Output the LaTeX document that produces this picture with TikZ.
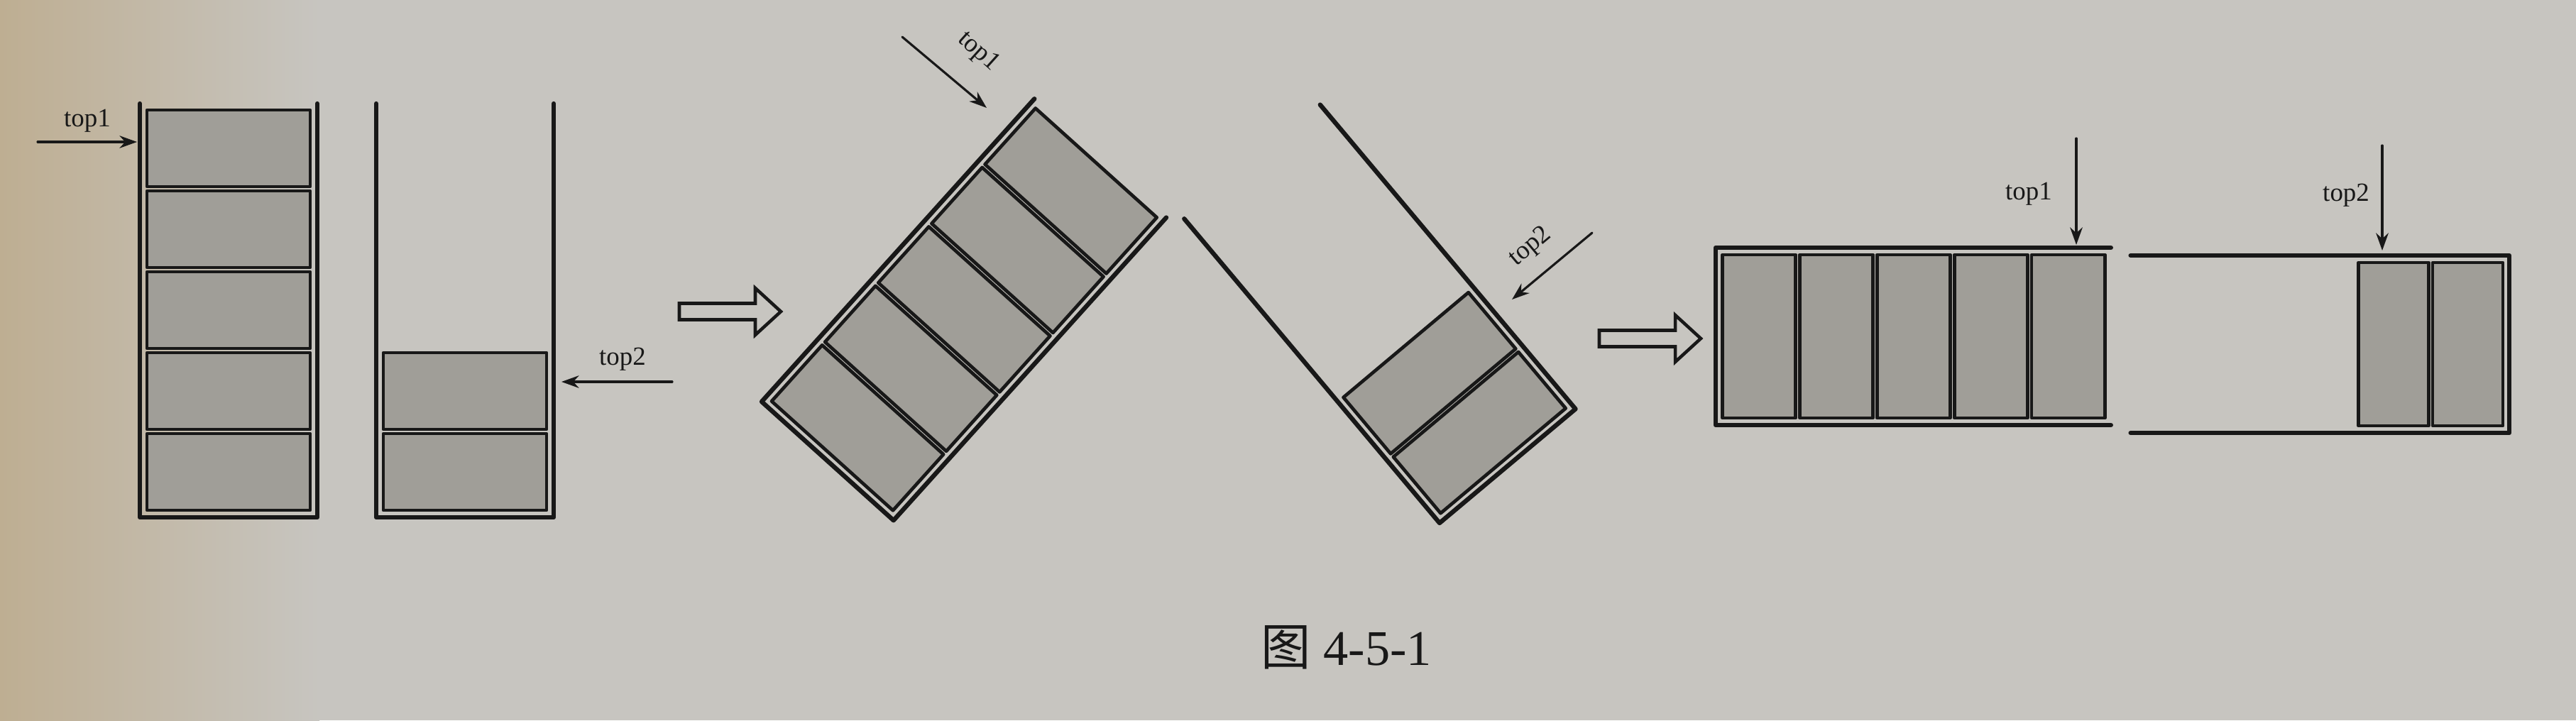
\documentclass[tikz,border=0pt]{standalone}
\usepackage{fontspec}
\setmainfont{Liberation Serif}
\newfontfamily\cjk{Noto Sans CJK SC}
\usetikzlibrary{arrows.meta}
\definecolor{paper}{RGB}{199,197,192}
\definecolor{pageedge}{RGB}{190,174,146}
\definecolor{cellgray}{RGB}{160,158,152}
\definecolor{ink}{RGB}{24,24,24}
\tikzset{
  wall/.style={draw=ink, line width=1.8pt},
  cell/.style={draw=ink, fill=cellgray, line width=1.35pt},
  ptr/.style={draw=ink, line width=0.9pt, -{Stealth[length=7pt,width=5pt]}},
  hollow/.style={draw=ink, line width=1.3pt, line join=miter, fill=paper},
  lbl/.style={font=\fontsize{10.5}{12}\selectfont, text=ink, inner sep=0pt}
}
% one stack: open container and #1 cells
\newcommand{\stackbox}[1]{%
  \draw[wall] (0,5.83)--(0,0)--(2.5,0)--(2.5,5.83);
  \foreach \k in {1,...,#1}{
    \draw[cell] (0.1,{0.1+(\k-1)*1.14}) rectangle (2.4,{1.18+(\k-1)*1.14});}
}
% big hollow arrow, left end at (#1,#2)
\newcommand{\fatarrow}[2]{%
  \draw[hollow] (#1,#2) ++(0,0.115) -- ++(1.07,0) -- ++(0,0.215) -- ++(0.36,-0.33)
    -- ++(-0.36,-0.33) -- ++(0,0.215) -- ++(-1.07,0) -- cycle;}
\begin{document}
\begin{tikzpicture}[line join=round, line cap=round]
\fill[paper] (0,0) rectangle (36.29,10.15);
\shade[left color=pageedge, right color=paper] (0,0) rectangle (4.5,10.15);
\useasboundingbox (0,0) rectangle (36.29,10.15);

% two upright stacks
\begin{scope}[shift={(1.97,2.86)}] \stackbox{5} \end{scope}
\begin{scope}[shift={(5.30,2.86)}] \stackbox{2} \end{scope}
\coordinate (p1a) at (0.53,8.15); \coordinate (p1b) at (1.93,8.15);
\draw[ptr] (p1a)--(p1b);
\node[lbl] (top1a) at (1.23,8.45) {top1};
\coordinate (p2a) at (9.47,4.77); \coordinate (p2b) at (7.91,4.77);
\draw[ptr] (p2a)--(p2b);
\node[lbl] (top2a) at (8.77,5.09) {top2};

\fatarrow{9.57}{5.76}

% tilted towards each other
\begin{scope}[shift={(10.73,4.49)}, rotate=-42, yscale=0.985] \stackbox{5} \end{scope}
\begin{scope}[shift={(20.28,2.78)}, rotate=40, yscale=0.96] \stackbox{2} \end{scope}
\coordinate (q1a) at (12.71,9.63); \coordinate (q1b) at (13.90,8.63);
\draw[ptr] (q1a)--(q1b);
\node[lbl, rotate=-42] (top1b) at (13.78,9.42) {top1};
\coordinate (q2a) at (22.43,6.87); \coordinate (q2b) at (21.30,5.93);
\draw[ptr] (q2a)--(q2b);
\node[lbl, rotate=40] (top2b) at (21.56,6.67) {top2};

\fatarrow{22.53}{5.38}

% laid flat, bottoms outward
\begin{scope}[shift={(24.17,6.66)}, rotate=-90, yscale=0.955] \stackbox{5} \end{scope}
\begin{scope}[shift={(35.35,4.05)}, rotate=90, yscale=0.915] \stackbox{2} \end{scope}
\coordinate (r1a) at (29.25,8.20); \coordinate (r1b) at (29.25,6.70);
\draw[ptr] (r1a)--(r1b);
\node[lbl] (top1c) at (28.58,7.42) {top1};
\coordinate (r2a) at (33.56,8.10); \coordinate (r2b) at (33.56,6.62);
\draw[ptr] (r2a)--(r2b);
\node[lbl] (top2c) at (33.05,7.40) {top2};

\node[font=\fontsize{20}{24}\selectfont, text=ink] (cap) at (18.97,1.03) {{\cjk 图}\ 4-5-1};
\end{tikzpicture}
\end{document}
